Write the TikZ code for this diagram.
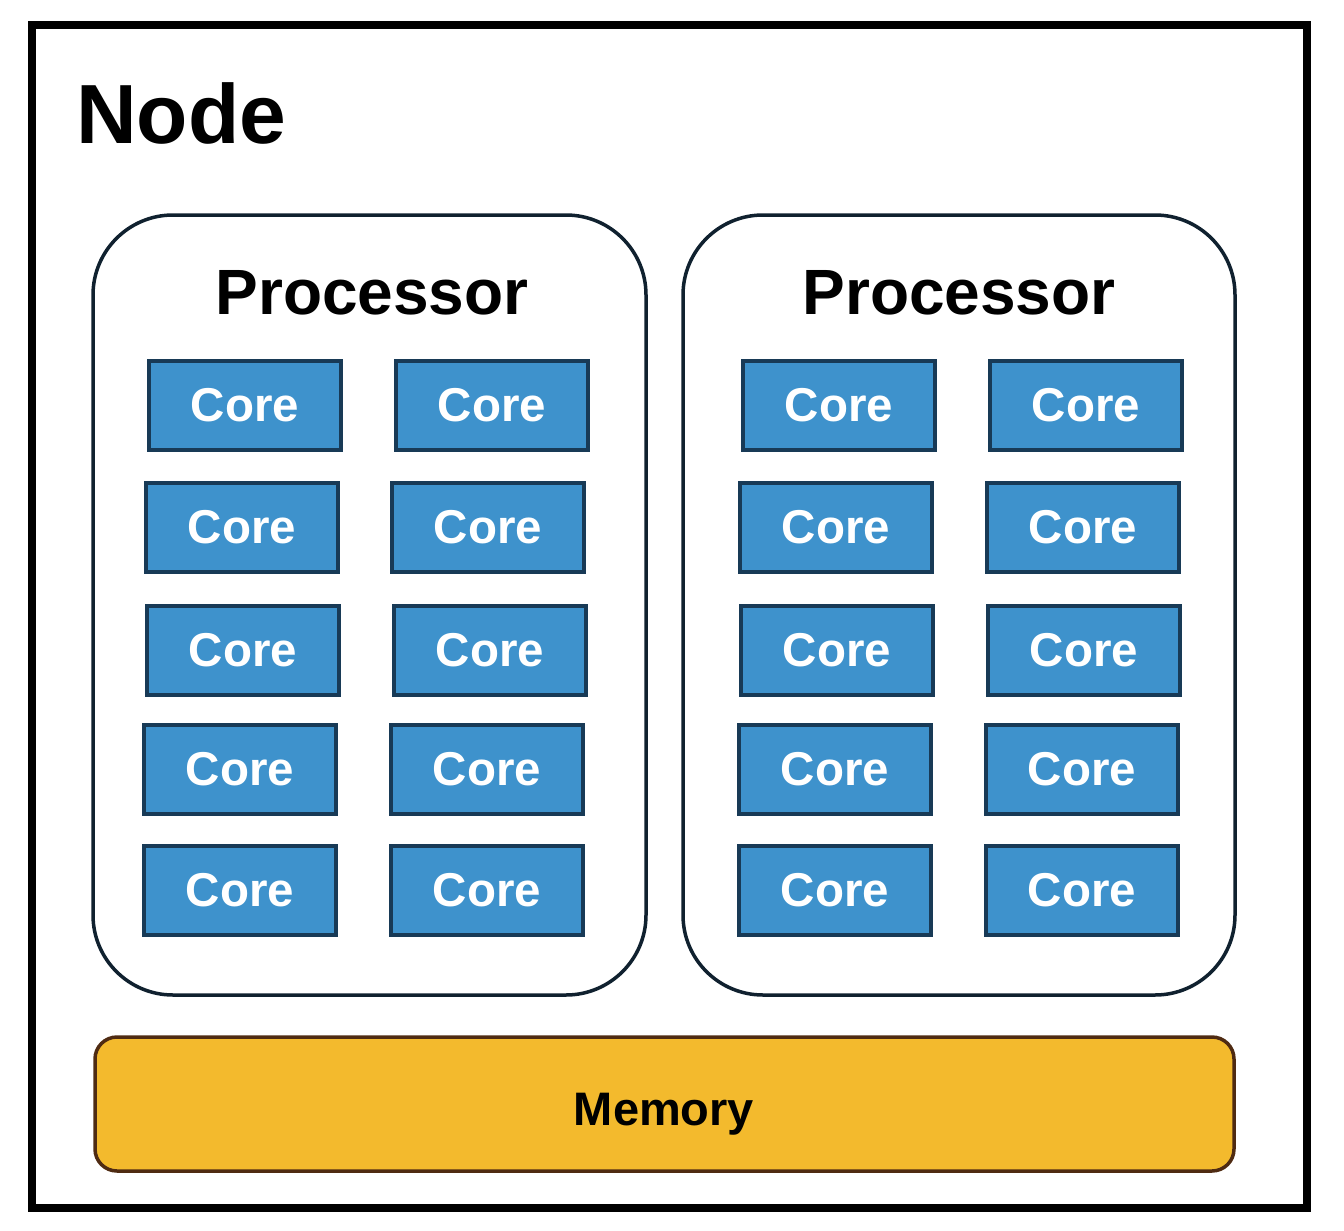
\documentclass[tikz,border=0pt]{standalone}
\usepackage{fontspec}
\setmainfont{Liberation Sans}
\definecolor{corefill}{HTML}{3E92CC}
\definecolor{coreline}{HTML}{183A56}
\definecolor{procline}{HTML}{10212F}
\definecolor{memfill}{HTML}{F3BA2D}
\definecolor{memline}{HTML}{4F2B12}
\tikzset{
  corebox/.style={draw=coreline, fill=corefill, line width=4pt, minimum width=192pt, minimum height=89pt, inner sep=0pt, text=white, font=\bfseries\fontsize{47.5}{57}\selectfont},
  procbox/.style={draw=procline, line width=3.5pt, rounded corners=80pt},
  membox/.style={draw=memline, fill=memfill, line width=3.5pt, rounded corners=22pt},
  frame/.style={draw=black, line width=8pt},
}
\begin{document}
\begin{tikzpicture}[x=1pt,y=-1pt]
\useasboundingbox (0,0) rectangle (1344,1231);
\draw[frame] (32,25) rectangle (1307,1208);
\node[anchor=base west, inner sep=0pt, font=\bfseries\fontsize{84}{100}\selectfont] (nodelabel) at (76,143) {Node};
% processors
\draw[procbox] (93,215) rectangle (646,995);
\draw[procbox] (683,215) rectangle (1235,995);
\node[anchor=base, inner sep=0pt, font=\bfseries\fontsize{64}{76}\selectfont] (p1label) at (372,314) {Processor};
\node[anchor=base, inner sep=0pt, font=\bfseries\fontsize{64}{76}\selectfont] (p2label) at (959,314) {Processor};
% cores left
\node[corebox] (c11) at (245,405) {Core};
\node[corebox] (c12) at (492,405) {Core};
\node[corebox] (c21) at (242,527) {Core};
\node[corebox] (c22) at (488,527) {Core};
\node[corebox] (c31) at (243,650) {Core};
\node[corebox] (c32) at (490,650) {Core};
\node[corebox] (c41) at (240,769) {Core};
\node[corebox] (c42) at (487,769) {Core};
\node[corebox] (c51) at (240,890) {Core};
\node[corebox] (c52) at (487,890) {Core};
% cores right
\node[corebox] (d11) at (839,405) {Core};
\node[corebox] (d12) at (1086,405) {Core};
\node[corebox] (d21) at (836,527) {Core};
\node[corebox] (d22) at (1083,527) {Core};
\node[corebox] (d31) at (837,650) {Core};
\node[corebox] (d32) at (1084,650) {Core};
\node[corebox] (d41) at (835,769) {Core};
\node[corebox] (d42) at (1082,769) {Core};
\node[corebox] (d51) at (835,890) {Core};
\node[corebox] (d52) at (1082,890) {Core};
% memory
\draw[membox] (95,1037) rectangle (1234,1171);
\node[anchor=base, inner sep=0pt, font=\bfseries\fontsize{47}{57}\selectfont] (memlabel) at (664,1125) {Memory};
\end{tikzpicture}
\end{document}
